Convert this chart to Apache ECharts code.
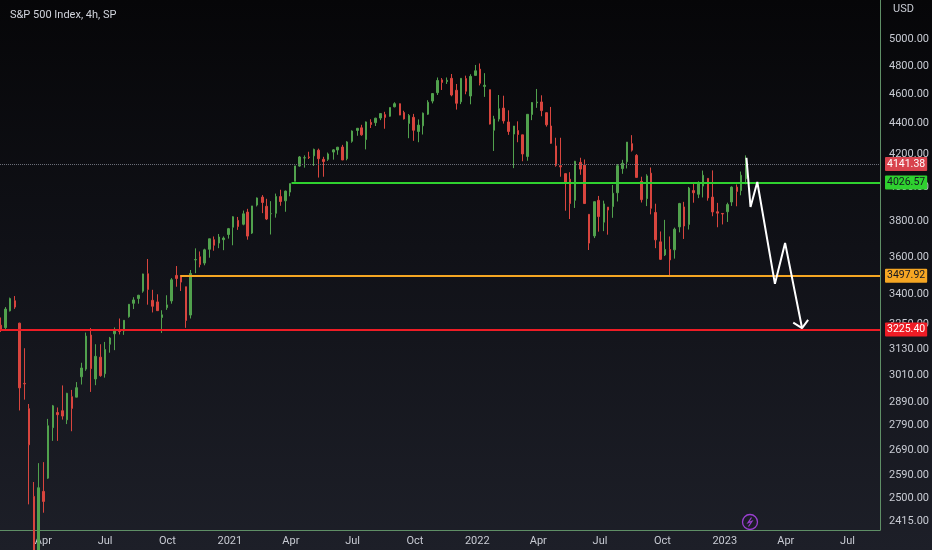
<!DOCTYPE html>
<html>
<head>
<meta charset="utf-8">
<script src="https://cdn.jsdelivr.net/npm/echarts@6/dist/echarts.min.js"></script>
<style>
  html, body { margin: 0; padding: 0; }
  body { background: linear-gradient(180deg, #060608 0%, #101117 45%, #1d1f28 100%); }
  #chart { width: 932px; height: 550px; }
</style>
</head>
<body>
<div id="chart"></div>
<script>
// weekly candles: [week, open, high, low, close]
const candles2020 = [
  ['2020-01-27', 3247, 3285, 3214, 3225], ['2020-02-03', 3235, 3337, 3223, 3327],
  ['2020-02-10', 3318, 3385, 3315, 3380], ['2020-02-17', 3369, 3393, 3328, 3337],
  ['2020-02-24', 3257, 3259, 2855, 2954], ['2020-03-02', 2974, 3136, 2902, 2972],
  ['2020-03-09', 2863, 2883, 2478, 2711], ['2020-03-16', 2508, 2563, 2280, 2305],
  ['2020-03-23', 2290, 2637, 2192, 2541], ['2020-03-30', 2527, 2641, 2447, 2489],
  ['2020-04-06', 2578, 2819, 2575, 2790], ['2020-04-13', 2782, 2879, 2727, 2875],
  ['2020-04-20', 2846, 2868, 2727, 2837], ['2020-04-27', 2854, 2965, 2816, 2831],
  ['2020-05-04', 2815, 2932, 2797, 2930], ['2020-05-11', 2915, 2945, 2767, 2864],
  ['2020-05-18', 2913, 2980, 2913, 2955], ['2020-05-25', 3004, 3068, 2969, 3044],
  ['2020-06-01', 3039, 3211, 3031, 3194], ['2020-06-08', 3199, 3233, 2936, 3041],
  ['2020-06-15', 2994, 3155, 2966, 3098], ['2020-06-22', 3094, 3155, 3004, 3009],
  ['2020-06-29', 3018, 3166, 3000, 3130], ['2020-07-06', 3155, 3190, 3115, 3185],
  ['2020-07-13', 3205, 3236, 3127, 3225], ['2020-07-20', 3224, 3280, 3202, 3216],
  ['2020-07-27', 3219, 3272, 3200, 3271], ['2020-08-03', 3289, 3352, 3284, 3351],
  ['2020-08-10', 3356, 3387, 3327, 3373], ['2020-08-17', 3380, 3399, 3354, 3397],
  ['2020-08-24', 3418, 3509, 3410, 3508], ['2020-08-31', 3509, 3588, 3349, 3427],
  ['2020-09-07', 3371, 3425, 3310, 3341], ['2020-09-14', 3363, 3402, 3324, 3319],
  ['2020-09-21', 3285, 3321, 3209, 3298], ['2020-09-28', 3334, 3397, 3323, 3348],
  ['2020-10-05', 3368, 3486, 3354, 3477], ['2020-10-12', 3500, 3550, 3441, 3484],
  ['2020-10-19', 3493, 3502, 3419, 3465], ['2020-10-26', 3441, 3441, 3234, 3270],
  ['2020-11-02', 3297, 3529, 3280, 3510], ['2020-11-09', 3583, 3646, 3512, 3585],
  ['2020-11-16', 3600, 3629, 3543, 3558], ['2020-11-23', 3566, 3644, 3554, 3638],
  ['2020-11-30', 3641, 3699, 3595, 3699], ['2020-12-07', 3694, 3712, 3633, 3663],
  ['2020-12-14', 3675, 3726, 3647, 3709], ['2020-12-21', 3694, 3712, 3636, 3703],
  ['2020-12-28', 3723, 3760, 3700, 3756]
];
const candles2021 = [
  ['2021-01-04', 3764, 3827, 3663, 3824], ['2021-01-11', 3803, 3823, 3749, 3768],
  ['2021-01-19', 3781, 3860, 3775, 3841], ['2021-01-25', 3851, 3870, 3694, 3714],
  ['2021-02-01', 3731, 3887, 3726, 3887], ['2021-02-08', 3892, 3937, 3884, 3934],
  ['2021-02-16', 3939, 3951, 3845, 3907], ['2021-02-22', 3885, 3929, 3805, 3811],
  ['2021-03-01', 3842, 3915, 3723, 3842], ['2021-03-08', 3844, 3960, 3819, 3943],
  ['2021-03-15', 3942, 3983, 3888, 3913], ['2021-03-22', 3917, 3978, 3853, 3975],
  ['2021-03-29', 3969, 4020, 3944, 4020], ['2021-04-05', 4034, 4129, 4034, 4129],
  ['2021-04-12', 4128, 4191, 4124, 4185], ['2021-04-19', 4179, 4195, 4118, 4180],
  ['2021-04-26', 4185, 4218, 4172, 4181], ['2021-05-03', 4192, 4238, 4129, 4233],
  ['2021-05-10', 4228, 4238, 4057, 4174], ['2021-05-17', 4170, 4186, 4062, 4156],
  ['2021-05-24', 4170, 4213, 4160, 4204], ['2021-06-01', 4216, 4234, 4168, 4230],
  ['2021-06-07', 4229, 4249, 4199, 4247], ['2021-06-14', 4248, 4262, 4165, 4166],
  ['2021-06-21', 4174, 4286, 4164, 4281], ['2021-06-28', 4285, 4356, 4276, 4352],
  ['2021-07-06', 4356, 4372, 4321, 4370], ['2021-07-12', 4373, 4393, 4321, 4327],
  ['2021-07-19', 4296, 4415, 4233, 4412], ['2021-07-26', 4409, 4430, 4372, 4395],
  ['2021-08-02', 4407, 4440, 4385, 4437], ['2021-08-09', 4438, 4468, 4424, 4468],
  ['2021-08-16', 4461, 4480, 4367, 4442], ['2021-08-23', 4450, 4509, 4447, 4509],
  ['2021-08-30', 4514, 4545, 4510, 4535], ['2021-09-07', 4535, 4536, 4457, 4458],
  ['2021-09-13', 4475, 4487, 4428, 4432], ['2021-09-20', 4402, 4465, 4305, 4455],
  ['2021-09-27', 4443, 4466, 4288, 4357], ['2021-10-04', 4349, 4429, 4279, 4391],
  ['2021-10-11', 4386, 4475, 4329, 4471], ['2021-10-18', 4464, 4559, 4459, 4545],
  ['2021-10-25', 4553, 4608, 4537, 4605], ['2021-11-01', 4611, 4718, 4595, 4697],
  ['2021-11-08', 4701, 4714, 4630, 4683], ['2021-11-15', 4689, 4718, 4672, 4698],
  ['2021-11-22', 4712, 4743, 4586, 4595], ['2021-11-29', 4628, 4672, 4495, 4538],
  ['2021-12-06', 4548, 4713, 4532, 4712], ['2021-12-13', 4710, 4731, 4600, 4621],
  ['2021-12-20', 4588, 4741, 4531, 4726], ['2021-12-27', 4733, 4808, 4733, 4766]
];
const candles2022 = [
  ['2022-01-03', 4778, 4819, 4662, 4677], ['2022-01-10', 4655, 4749, 4582, 4663],
  ['2022-01-18', 4632, 4632, 4395, 4398], ['2022-01-24', 4357, 4453, 4223, 4432],
  ['2022-01-31', 4431, 4595, 4415, 4501], ['2022-02-07', 4505, 4590, 4401, 4419],
  ['2022-02-14', 4412, 4490, 4327, 4349], ['2022-02-22', 4332, 4385, 4115, 4385],
  ['2022-02-28', 4355, 4416, 4279, 4329], ['2022-03-07', 4327, 4327, 4158, 4204],
  ['2022-03-14', 4188, 4465, 4161, 4463], ['2022-03-21', 4462, 4546, 4424, 4543],
  ['2022-03-28', 4541, 4637, 4507, 4546], ['2022-04-04', 4547, 4593, 4450, 4488],
  ['2022-04-11', 4474, 4471, 4381, 4393], ['2022-04-18', 4385, 4513, 4269, 4272],
  ['2022-04-25', 4255, 4308, 4124, 4132], ['2022-05-02', 4130, 4308, 4062, 4123],
  ['2022-05-09', 4081, 4081, 3859, 4024], ['2022-05-16', 4047, 4090, 3811, 3901],
  ['2022-05-23', 3920, 4160, 3875, 4158], ['2022-05-31', 4151, 4180, 4074, 4109],
  ['2022-06-06', 4134, 4169, 3900, 3901], ['2022-06-13', 3838, 3838, 3637, 3675],
  ['2022-06-21', 3715, 3913, 3703, 3912], ['2022-06-27', 3920, 3946, 3739, 3825],
  ['2022-07-05', 3793, 3918, 3742, 3899], ['2022-07-11', 3880, 3880, 3722, 3863],
  ['2022-07-18', 3883, 4012, 3818, 3962], ['2022-07-25', 3965, 4140, 3913, 4130],
  ['2022-08-01', 4112, 4167, 4080, 4145], ['2022-08-08', 4155, 4280, 4113, 4280],
  ['2022-08-15', 4270, 4325, 4219, 4228], ['2022-08-22', 4195, 4203, 4057, 4058],
  ['2022-08-29', 4034, 4062, 3907, 3924], ['2022-09-06', 3930, 4077, 3886, 4067],
  ['2022-09-12', 4084, 4119, 3838, 3873], ['2022-09-19', 3849, 3900, 3647, 3693],
  ['2022-09-26', 3682, 3740, 3584, 3586], ['2022-10-03', 3610, 3806, 3604, 3640],
  ['2022-10-10', 3640, 3712, 3492, 3583], ['2022-10-17', 3638, 3762, 3590, 3753],
  ['2022-10-24', 3766, 3905, 3735, 3901], ['2022-10-31', 3881, 3911, 3698, 3771],
  ['2022-11-07', 3780, 4000, 3751, 3993], ['2022-11-14', 3978, 4028, 3906, 3965],
  ['2022-11-21', 3956, 4034, 3933, 4026], ['2022-11-28', 4005, 4100, 3937, 4071],
  ['2022-12-05', 4052, 4052, 3918, 3934], ['2022-12-12', 3939, 4101, 3827, 3852],
  ['2022-12-19', 3853, 3905, 3764, 3845], ['2022-12-27', 3843, 3846, 3780, 3840]
];
const candles2023 = [
  ['2023-01-03', 3853, 3906, 3794, 3895], ['2023-01-09', 3910, 4003, 3887, 3999],
  ['2023-01-17', 3999, 4015, 3885, 3973], ['2023-01-23', 3978, 4094, 3950, 4071],
  ['2023-01-30', 4049, 4195, 4016, 4141.38]
];

// horizontal levels: [start, price]
const lastPrice = 4141.38;
const greenLevel = ['2021-04-02', 4026.57];
const orangeLevel = ['2020-10-20', 3497.92];
const redLevel = ['2020-01-28', 3225.40];

// projected path drawn on the chart
const projection = [
  ['2023-02-02', 4180], ['2023-02-08', 3881], ['2023-02-18', 4030],
  ['2023-03-16', 3456], ['2023-03-31', 3676], ['2023-04-25', 3233]
];
const arrowHead = [['2023-04-12', 3260], ['2023-04-25', 3233], ['2023-05-04', 3273]];

// axis ticks
const priceTicks = [2415, 2500, 2590, 2690, 2790, 2890, 3010, 3130, 3250, 3400,
  3600, 3800, 4000, 4200, 4400, 4600, 4800, 5000];
const timeTicks = ['2020-04-01', '2020-07-01', '2020-10-01', '2021-01-01', '2021-04-01',
  '2021-07-01', '2021-10-01', '2022-01-01', '2022-04-01', '2022-07-01', '2022-10-01',
  '2023-01-01', '2023-04-01', '2023-07-01'];
const xStart = '2020-01-28';
const xEnd = '2023-08-18';

const t = s => new Date(s + 'T00:00:00').getTime();
const months = ['Jan', 'Feb', 'Mar', 'Apr', 'May', 'Jun', 'Jul', 'Aug', 'Sep', 'Oct', 'Nov', 'Dec'];

let candles = [].concat(candles2020, candles2021, candles2022, candles2023)
  .map(c => [t(c[0]) + 2 * 86400000, c[1], c[4], c[3], c[2]]);

function level(start, value, color, textColor, width, type) {
  return [
    { coord: [t(start), value], lineStyle: { color: color, width: width, type: type } },
    {
      coord: [t(xEnd), value],
      label: {
        show: true, position: 'end', distance: 5,
        formatter: value.toFixed(2),
        backgroundColor: type === 'dotted' ? '#d8434d' : color,
        color: textColor, fontSize: 10.5, fontFamily: 'Roboto',
        padding: [2, 2, 1, 2], borderRadius: 1
      }
    }
  ];
}

let myChart = echarts.init(document.getElementById('chart'));
let option = {
  backgroundColor: 'transparent',
  animation: false,
  title: {
    text: 'S&P 500 Index, 4h, SP', left: 5, top: 5,
    textStyle: { color: '#d1d4dc', fontSize: 11, fontWeight: 'normal', fontFamily: 'Roboto' }
  },
  grid: { left: 0, right: 47, top: 0, bottom: 20 },
  xAxis: {
    // timestamps on a plain value axis so the quarter labels can be placed exactly
    type: 'value', min: t(xStart), max: t(xEnd),
    axisLine: { lineStyle: { color: '#5f8f66', width: 1 } },
    axisTick: { show: false },
    splitLine: { show: false },
    axisLabel: {
      customValues: timeTicks.map(t),
      color: '#c8cbd3', fontSize: 11, fontFamily: 'Roboto', margin: 6,
      formatter: function (v) {
        let d = new Date(v);
        return d.getMonth() === 0 ? String(d.getFullYear()) : months[d.getMonth()];
      }
    }
  },
  yAxis: {
    type: 'log', position: 'right', min: 2384, max: 5303,
    axisLine: { show: true, lineStyle: { color: '#5f8f66', width: 1 } },
    axisTick: { show: false },
    splitLine: { show: false },
    axisLabel: {
      customValues: priceTicks,
      color: '#c8cbd3', fontSize: 11, fontFamily: 'Roboto', margin: 9,
      formatter: v => Number(v).toFixed(2)
    }
  },
  graphic: [
    { type: 'text', left: 893, top: 4, style: { text: 'USD', fill: '#c8cbd3', font: '11px Roboto' } },
    {
      type: 'group', left: 740, top: 512,
      children: [
        { type: 'circle', shape: { cx: 8, cy: 8, r: 7.5 }, style: { fill: 'none', stroke: '#9a3fd0', lineWidth: 1.3 } },
        { type: 'polyline', shape: { points: [[9.5, 3.5], [6, 8.8], [10, 7.3], [6.5, 12.5]] }, style: { fill: 'none', stroke: '#9a3fd0', lineWidth: 1.2 } }
      ]
    }
  ],
  series: [
    {
      type: 'candlestick',
      data: candles,
      dimensions: ['date', 'open', 'close', 'lowest', 'highest'],
      encode: { x: 0, y: [1, 2, 3, 4] },
      barWidth: 2,
      itemStyle: {
        color: '#51a14d', color0: '#d8453e',
        borderColor: '#51a14d', borderColor0: '#d8453e', borderWidth: 1
      },
      markLine: {
        silent: true, symbol: ['none', 'none'], animation: false,
        data: [
          level(xStart, lastPrice, '#6b6e78', '#ffffff', 1, 'dotted'),
          level(greenLevel[0], greenLevel[1], '#2fd12f', '#131722', 2, 'solid'),
          level(orangeLevel[0], orangeLevel[1], '#f5a623', '#131722', 2, 'solid'),
          level(redLevel[0], redLevel[1], '#ee1c25', '#ffffff', 2, 'solid')
        ]
      }
    },
    {
      type: 'line', data: projection.map(p => [t(p[0]), p[1]]),
      showSymbol: false, silent: true, z: 5,
      lineStyle: { color: '#ffffff', width: 2 }
    },
    {
      type: 'line', data: arrowHead.map(p => [t(p[0]), p[1]]),
      showSymbol: false, silent: true, z: 5,
      lineStyle: { color: '#ffffff', width: 2 }
    }
  ]
};
myChart.setOption(option);
</script>
</body>
</html>
